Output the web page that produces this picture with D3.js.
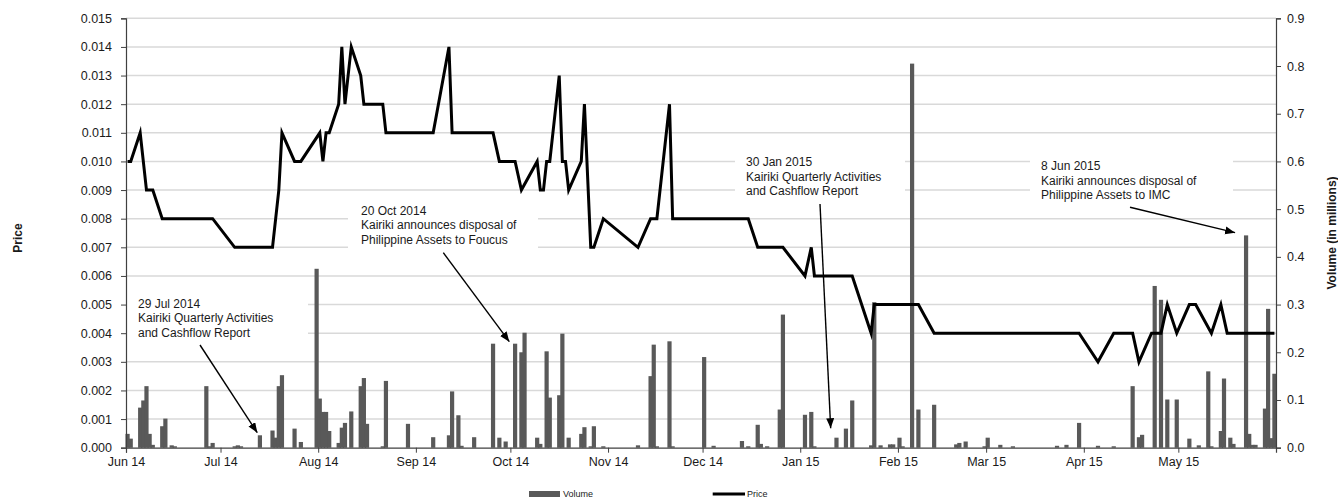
<!DOCTYPE html>
<html>
<head>
<meta charset="utf-8">
<script src="https://cdn.jsdelivr.net/npm/d3@7/dist/d3.min.js"></script>
<style>
  html, body { margin: 0; padding: 0; background: #fff; }
  svg { display: block; font-family: "Liberation Sans", Arial, sans-serif; }
</style>
</head>
<body>
<svg id="chart" width="1338" height="499"></svg>
<script>
// ---------------- DATA ----------------
const priceDates = ["2014-06-01","2014-06-02","2014-06-05","2014-06-07","2014-06-09","2014-06-12","2014-06-28","2014-07-05","2014-07-17","2014-07-19","2014-07-20","2014-07-24","2014-07-26","2014-08-01","2014-08-02","2014-08-03","2014-08-04","2014-08-07","2014-08-08","2014-08-09","2014-08-11","2014-08-14","2014-08-15","2014-08-21","2014-08-22","2014-09-06","2014-09-11","2014-09-12","2014-09-25","2014-09-27","2014-10-02","2014-10-04","2014-10-09","2014-10-10","2014-10-11","2014-10-12","2014-10-13","2014-10-16","2014-10-17","2014-10-18","2014-10-19","2014-10-23","2014-10-24","2014-10-26","2014-10-27","2014-10-30","2014-11-10","2014-11-14","2014-11-16","2014-11-20","2014-11-21","2014-12-15","2014-12-18","2014-12-26","2015-01-02","2015-01-04","2015-01-05","2015-01-17","2015-01-23","2015-01-24","2015-02-07","2015-02-12","2015-03-30","2015-04-05","2015-04-10","2015-04-16","2015-04-18","2015-04-22","2015-04-25","2015-04-27","2015-04-30","2015-05-04","2015-05-06","2015-05-11","2015-05-14","2015-05-16","2015-05-31"];
const prices = [0.010,0.010,0.011,0.009,0.009,0.008,0.008,0.007,0.007,0.009,0.011,0.010,0.010,0.011,0.010,0.011,0.011,0.012,0.014,0.012,0.014,0.013,0.012,0.012,0.011,0.011,0.014,0.011,0.011,0.010,0.010,0.009,0.010,0.009,0.009,0.010,0.010,0.013,0.010,0.010,0.009,0.010,0.012,0.007,0.007,0.008,0.007,0.008,0.008,0.012,0.008,0.008,0.007,0.007,0.006,0.007,0.006,0.006,0.004,0.005,0.005,0.004,0.004,0.003,0.004,0.004,0.003,0.004,0.004,0.005,0.004,0.005,0.005,0.004,0.005,0.004,0.004];

const volumeDates = ["2014-06-01","2014-06-02","2014-06-05","2014-06-06","2014-06-07","2014-06-08","2014-06-09","2014-06-12","2014-06-13","2014-06-15","2014-06-16","2014-06-26","2014-06-27","2014-06-28","2014-07-05","2014-07-06","2014-07-07","2014-07-13","2014-07-17","2014-07-18","2014-07-19","2014-07-20","2014-07-24","2014-07-26","2014-07-31","2014-08-01","2014-08-02","2014-08-03","2014-08-04","2014-08-07","2014-08-08","2014-08-09","2014-08-11","2014-08-14","2014-08-15","2014-08-16","2014-08-21","2014-08-22","2014-08-29","2014-09-06","2014-09-11","2014-09-12","2014-09-14","2014-09-15","2014-09-19","2014-09-25","2014-09-27","2014-09-29","2014-10-02","2014-10-04","2014-10-05","2014-10-09","2014-10-10","2014-10-12","2014-10-13","2014-10-16","2014-10-17","2014-10-19","2014-10-23","2014-10-24","2014-10-26","2014-10-27","2014-10-30","2014-11-10","2014-11-14","2014-11-15","2014-11-16","2014-11-20","2014-11-21","2014-12-01","2014-12-04","2014-12-13","2014-12-15","2014-12-18","2014-12-19","2014-12-21","2014-12-25","2014-12-26","2015-01-02","2015-01-04","2015-01-05","2015-01-12","2015-01-15","2015-01-17","2015-01-23","2015-01-24","2015-01-26","2015-01-29","2015-01-30","2015-02-01","2015-02-02","2015-02-05","2015-02-07","2015-02-12","2015-02-19","2015-02-20","2015-02-22","2015-02-28","2015-03-01","2015-03-05","2015-03-09","2015-03-23","2015-03-26","2015-03-30","2015-04-05","2015-04-10","2015-04-16","2015-04-18","2015-04-19","2015-04-23","2015-04-25","2015-04-27","2015-04-30","2015-05-04","2015-05-07","2015-05-10","2015-05-11","2015-05-14","2015-05-15","2015-05-17","2015-05-18","2015-05-22","2015-05-23","2015-05-24","2015-05-25","2015-05-28","2015-05-29","2015-05-30","2015-05-31"];
const volumes = [0.029,0.019,0.084,0.099,0.129,0.029,0.006,0.045,0.061,0.005,0.003,0.129,0.003,0.010,0.003,0.005,0.003,0.026,0.036,0.021,0.129,0.152,0.040,0.012,0.375,0.103,0.075,0.075,0.035,0.010,0.042,0.052,0.076,0.129,0.146,0.050,0.003,0.140,0.050,0.022,0.026,0.118,0.068,0.004,0.022,0.218,0.021,0.013,0.218,0.200,0.241,0.021,0.008,0.202,0.105,0.110,0.239,0.021,0.029,0.043,0.003,0.045,0.003,0.005,0.150,0.216,0.003,0.223,0.003,0.190,0.004,0.014,0.003,0.048,0.008,0.003,0.080,0.279,0.069,0.075,0.003,0.021,0.040,0.099,0.005,0.305,0.005,0.007,0.007,0.021,0.003,0.805,0.080,0.090,0.007,0.010,0.013,0.003,0.021,0.006,0.003,0.004,0.006,0.052,0.004,0.003,0.129,0.022,0.027,0.339,0.310,0.101,0.101,0.019,0.005,0.160,0.003,0.035,0.145,0.021,0.008,0.445,0.029,0.006,0.006,0.082,0.291,0.020,0.155];

const monthTicks = ["2014-06-01","2014-07-01","2014-08-01","2014-09-01","2014-10-01","2014-11-01","2014-12-01","2015-01-01","2015-02-01","2015-03-01","2015-04-01","2015-05-01"];
const priceTicks = [0,0.001,0.002,0.003,0.004,0.005,0.006,0.007,0.008,0.009,0.010,0.011,0.012,0.013,0.014,0.015];
const volumeTicks = [0,0.1,0.2,0.3,0.4,0.5,0.6,0.7,0.8,0.9];
const dateDomain = ["2014-06-01","2015-06-01"];

const annotationTexts = [
  ["29 Jul 2014","Kairiki Quarterly Activities","and Cashflow Report"],
  ["20 Oct 2014","Kairiki announces disposal of","Philippine Assets to Foucus"],
  ["30 Jan 2015","Kairiki Quarterly Activities","and Cashflow Report"],
  ["8 Jun 2015","Kairiki announces disposal of","Philippine Assets to IMC"]
];
const annotationTargets = ["2014-07-13","2014-10-02","2015-01-12","2015-05-22"];

// layout (pixels) for annotation boxes / arrows
const annotationLayout = [
  {tx:138, ty:307.5, box:[126,290,308,345], from:[200,345], tip:[-2.6,-2.6]},
  {tx:361, ty:214.5, box:[348,201,538,262], from:[443.3,252.7], tip:[-5.8,-2]},
  {tx:746, ty:166,   box:[735,150,905,202], from:[820,204], tip:[-5.8,-9.4]},
  {tx:1041,ty:170,   box:[1030,150,1233,202], from:[1130,207.3], tip:[-11,-2.7]}
];

// ---------------- CHART ----------------
const W = 1338, H = 499;
const M = {left:126, right:62, top:18.3, bottom:51.3};
const svg = d3.select("#chart");
const parse = d3.timeParse("%Y-%m-%d");

const x = d3.scaleTime().domain(dateDomain.map(parse)).range([M.left, W - M.right]);
const yP = d3.scaleLinear().domain([0, 0.015]).range([H - M.bottom, M.top]);
const yV = d3.scaleLinear().domain([0, 0.9]).range([H - M.bottom, M.top]);
const dayW = x(parse("2014-06-02")) - x(parse("2014-06-01"));
const xc = d => x(d) + dayW / 2;

const textCol = "#1a1a1a";

// gridlines
svg.append("g").selectAll("line").data(priceTicks.slice(1)).join("line")
  .attr("x1", M.left).attr("x2", W - M.right)
  .attr("y1", d => yP(d)).attr("y2", d => yP(d))
  .attr("stroke", "#d9d9d9").attr("stroke-width", 1.4);

// annotation boxes (white, hide gridlines)
svg.append("g").selectAll("rect").data(annotationLayout).join("rect")
  .attr("x", d => d.box[0]).attr("y", d => d.box[1])
  .attr("width", d => d.box[2] - d.box[0]).attr("height", d => d.box[3] - d.box[1])
  .attr("fill", "#fff");

// volume bars
const vol = volumeDates.map((d, i) => ({date: parse(d), v: volumes[i]}));
const barW = 4.2;
svg.append("g").selectAll("rect").data(vol).join("rect")
  .attr("x", d => xc(d.date) - barW / 2)
  .attr("width", barW)
  .attr("y", d => yV(d.v))
  .attr("height", d => yV(0) - yV(d.v))
  .attr("fill", "#595959");

// price line
const pr = priceDates.map((d, i) => ({date: parse(d), p: prices[i]}));
svg.append("path").datum(pr)
  .attr("d", d3.line().x(d => xc(d.date)).y(d => yP(d.p)))
  .attr("fill", "none").attr("stroke", "#000").attr("stroke-width", 3)
  .attr("stroke-linejoin", "miter").attr("stroke-miterlimit", 6);

// axes
const axL = svg.append("g").attr("transform", `translate(${M.left},0)`)
  .call(d3.axisLeft(yP).tickValues(priceTicks).tickFormat(d3.format(".3f")).tickSizeOuter(0).tickSize(5).tickPadding(9));
const axR = svg.append("g").attr("transform", `translate(${W - M.right},0)`)
  .call(d3.axisRight(yV).tickValues(volumeTicks).tickFormat(d3.format(".1f")).tickSizeOuter(0).tickSize(5).tickPadding(6));
const axB = svg.append("g").attr("transform", `translate(0,${H - M.bottom})`)
  .call(d3.axisBottom(x).tickValues(monthTicks.map(parse)).tickFormat(d3.timeFormat("%b %y")).tickSizeOuter(0).tickSize(5).tickPadding(4));
[axL, axR, axB].forEach(g => {
  g.selectAll("path.domain").attr("stroke", "#404040").attr("stroke-width", 1.2);
  g.selectAll(".tick line").attr("stroke", "#404040");
  g.selectAll("text").attr("fill", textCol).style("font-size", "12.5px").style("font-family", "Liberation Sans, Arial, sans-serif");
});

// axis titles
svg.append("text").attr("transform", "translate(22,238) rotate(-90)")
  .attr("text-anchor", "middle").attr("font-weight", "bold").attr("font-size", 12)
  .attr("fill", textCol).text("Price");
svg.append("text").attr("transform", "translate(1336,233) rotate(-90)")
  .attr("text-anchor", "middle").attr("font-weight", "bold").attr("font-size", 12)
  .attr("fill", textCol).text("Volume (in millions)");

// annotations
const defs = svg.append("defs");
defs.append("marker").attr("id", "ah").attr("markerUnits", "userSpaceOnUse")
  .attr("markerWidth", 12).attr("markerHeight", 10).attr("refX", 10).attr("refY", 4)
  .attr("orient", "auto")
  .append("path").attr("d", "M0,0 L10,4 L0,8 Z").attr("fill", "#000");

const ann = svg.append("g");
annotationLayout.forEach((a, i) => {
  const tDate = parse(annotationTargets[i]);
  const idx = volumeDates.indexOf(annotationTargets[i]);
  const tipX = xc(tDate) + a.tip[0], tipY = yV(volumes[idx]) + a.tip[1];
  const t = ann.append("text").attr("x", a.tx).attr("y", a.ty)
    .attr("font-size", 12).attr("fill", textCol);
  annotationTexts[i].forEach((line, j) => {
    t.append("tspan").attr("x", a.tx).attr("dy", j === 0 ? 0 : 14.5).text(line);
  });
  ann.append("line").attr("x1", a.from[0]).attr("y1", a.from[1])
    .attr("x2", tipX).attr("y2", tipY)
    .attr("stroke", "#000").attr("stroke-width", 1.4).attr("marker-end", "url(#ah)");
});

// legend (kept fully inside the picture)
const lg = svg.append("g");
lg.append("rect").attr("x", 529).attr("y", 491).attr("width", 31).attr("height", 6).attr("fill", "#595959");
lg.append("text").attr("x", 563).attr("y", 496.5).attr("font-size", 9).attr("fill", textCol).text("Volume");
lg.append("line").attr("x1", 712.7).attr("x2", 745).attr("y1", 494).attr("y2", 494).attr("stroke", "#000").attr("stroke-width", 3);
lg.append("text").attr("x", 747).attr("y", 496.5).attr("font-size", 9).attr("fill", textCol).text("Price");
</script>
</body>
</html>
